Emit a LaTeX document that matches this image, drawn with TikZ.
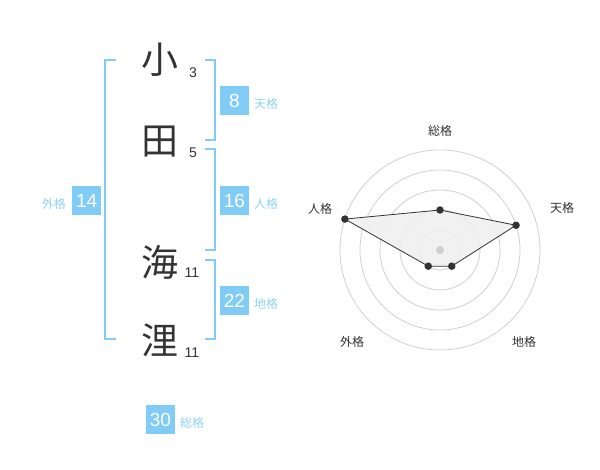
\documentclass[tikz,border=0pt]{standalone}
\usepackage{fontspec}
\setmainfont{Liberation Sans}
\newfontfamily\jp{Noto Sans CJK JP}
\definecolor{kblue}{HTML}{80CCF6}
\definecolor{klabel}{HTML}{8ED2F6}
\definecolor{ktext}{HTML}{333333}
\definecolor{kgrid}{HTML}{CFCFCF}
\definecolor{kfill}{HTML}{EFEFEF}
\begin{document}
\begin{tikzpicture}[x=1pt,y=-1pt,
  kanji/.style={font=\jp\fontsize{37}{37}\selectfont, text=ktext, inner sep=0},
  strokes/.style={font=\fontsize{14}{14}\selectfont, text=ktext, inner sep=0},
  numbox/.style={fill=kblue, text=white, minimum width=29pt, minimum height=29pt, inner sep=0, font=\fontsize{19}{19}\selectfont},
  kaku/.style={font=\jp\fontsize{12}{12}\selectfont, text=klabel, inner sep=0},
  bracket/.style={draw=kblue, line width=2pt},
  axislabel/.style={font=\jp\fontsize{12}{12}\selectfont, text=ktext, inner sep=0},
  grid/.style={draw=kgrid, line width=0.8pt},
  dot/.style={circle, fill=ktext, inner sep=0, minimum size=7.5pt},
]
\useasboundingbox (0,0) rectangle (600,470);
% name characters
\node[kanji] (k1) at (160,60) {小};
\node[kanji] (k2) at (160,142) {田};
\node[kanji] (k3) at (160,262) {海};
\node[kanji] (k4) at (160,340) {浬};
\node[strokes] (s1) at (193,73) {3};
\node[strokes] (s2) at (193,153) {5};
\node[strokes] (s3) at (192,273) {11};
\node[strokes] (s4) at (192,353) {11};
% brackets
\draw[bracket] (116,60) -- (105,60) -- (105,339.5) -- (116,339.5);
\draw[bracket] (205,60) -- (215,60) -- (215,140) -- (205,140);
\draw[bracket] (205,149.5) -- (215,149.5) -- (215,250) -- (205,250);
\draw[bracket] (205,260) -- (215,260) -- (215,339.5) -- (205,339.5);
% boxes
\node[numbox] (b8) at (234.5,100.5) {8};
\node[kaku, anchor=west] (l8) at (254,104) {天格};
\node[numbox] (b16) at (234.5,200.5) {16};
\node[kaku, anchor=west] (l16) at (254,204) {人格};
\node[numbox] (b14) at (86.7,200.5) {14};
\node[kaku, anchor=east] (l14) at (66,204) {外格};
\node[numbox] (b22) at (234.5,300.5) {22};
\node[kaku, anchor=west] (l22) at (254,304) {地格};
\node[numbox] (b30) at (160.5,419.5) {30};
\node[kaku, anchor=west] (l30) at (180,423) {総格};
% radar
\coordinate (c) at (440,250);
\foreach \r in {20,40,60,80,100} \draw[grid] (c) circle[radius=\r];
\begin{scope}[shift={(440,250)}, y=1pt]
  \coordinate (p1) at (90:40);
  \coordinate (p2) at (18:80);
  \coordinate (p3) at (-54:20);
  \coordinate (p4) at (-126:20);
  \coordinate (p5) at (162:100);
\end{scope}
\filldraw[fill=kfill, fill opacity=0.85, draw=ktext, line width=0.8pt] (p1) -- (p2) -- (p3) -- (p4) -- (p5) -- cycle;
\fill[kgrid] (c) circle[radius=4];
\foreach \p in {p1,p2,p3,p4,p5} \node[dot] (d\p) at (\p) {};
\node[axislabel] (a1) at (440,131) {総格};
\node[axislabel] (a2) at (562,208) {天格};
\node[axislabel] (a3) at (320,209) {人格};
\node[axislabel] (a4) at (352,342) {外格};
\node[axislabel] (a5) at (524,342) {地格};
\end{tikzpicture}
\end{document}
